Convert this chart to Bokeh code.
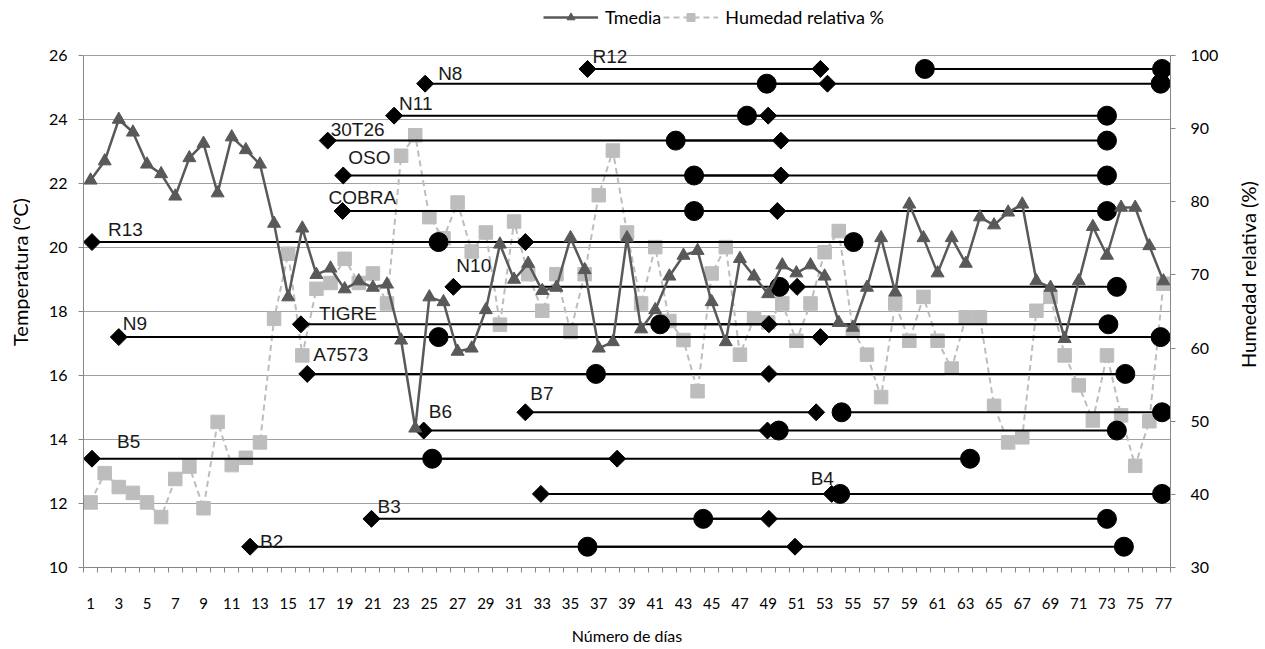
import math
from bokeh.plotting import figure
from bokeh.layouts import row
from bokeh.models import (Range1d, LinearAxis, FixedTicker, Legend, LegendItem,
                          ColumnDataSource)
from bokeh.embed import file_html
from bokeh.resources import INLINE
from bokeh.core.properties import value

# ---------------- data ----------------
days = list(range(1, 78))

tmedia = [22.1, 22.7, 24.0, 23.6, 22.6, 22.3, 21.6, 22.8, 23.25, 21.7,
          23.45, 23.05, 22.6, 20.75, 18.45, 20.6, 19.15, 19.35, 18.7, 18.95,
          18.75, 18.85, 17.1, 14.35, 18.45, 18.3, 16.75, 16.85, 18.05, 20.1,
          19.0, 19.5, 18.65, 18.75, 20.3, 19.3, 16.85, 17.05, 20.3, 17.45,
          18.05, 19.1, 19.75, 19.9, 18.3, 17.05, 19.65, 19.1, 18.55, 19.45,
          19.2, 19.45, 19.1, 17.65, 17.5, 18.75, 20.3, 18.6, 21.35, 20.3,
          19.2, 20.3, 19.5, 20.95, 20.7, 21.1, 21.35, 18.95, 18.75, 17.15,
          18.95, 20.65, 19.75, 21.25, 21.25, 20.05, 18.95]

humedad = [38.9, 42.9, 41.0, 40.2, 38.9, 36.9, 42.1, 43.8, 38.1, 49.9,
           44.0, 45.0, 47.1, 64.0, 72.9, 59.0, 68.1, 68.9, 72.2, 68.9,
           70.2, 66.1, 86.3, 89.1, 77.9, 75.0, 79.9, 73.2, 75.8, 63.2,
           77.3, 70.1, 65.1, 70.1, 62.2, 70.1, 80.9, 87.0, 75.8, 66.1,
           73.8, 63.7, 61.1, 54.1, 70.2, 73.8, 59.1, 64.1, 63.5, 66.1,
           61.0, 66.1, 73.1, 76.0, 62.4, 59.1, 53.3, 66.1, 61.0, 67.0,
           61.0, 57.2, 64.2, 64.2, 52.1, 47.1, 47.8, 65.1, 67.0, 59.0,
           54.9, 50.1, 59.0, 50.8, 43.9, 50.0, 68.8]

variedades = ["R12", "N8", "N11", "30T26", "OSO", "COBRA", "R13", "N10", "TIGRE",
              "N9", "A7573", "B7", "B6", "B5", "B4", "B3", "B2"]
nivel = [25.58, 25.12, 24.12, 23.34, 22.25, 21.14, 20.17, 18.77, 17.6,
         17.2, 16.05, 14.85, 14.28, 13.4, 12.3, 11.52, 10.65]
rombo_ini = [36.2, 24.7, 22.5, 17.8, 18.9, 18.85, 1.1, 26.7, 15.9,
             3.0, 16.35, 31.8, 24.6, 1.1, 32.9, 20.9, 12.3]
rombo_fin = [52.7, 53.2, 49.0, 49.9, 49.9, 49.65, 31.8, 51.05, 49.05,
             52.7, 49.05, 52.4, 48.95, 38.3, 53.5, 49.05, 50.9]
circ_ini = [60.1, 48.9, 47.5, 42.45, 43.75, 43.75, 25.65, 49.8, 41.35,
            25.65, 36.8, 54.2, 49.75, 25.2, 54.1, 44.4, 36.2]
circ_fin = [76.9, 76.8, 73.0, 73.0, 73.0, 73.0, 55.05, 73.7, 73.1,
            76.8, 74.3, 76.9, 73.7, 63.3, 76.9, 73.0, 74.2]

x_ticks = list(range(1, 78, 2))
y_ticks = list(range(10, 27, 2))
hum_ticks = list(range(30, 101, 10))
t_lim = (10, 26)
h_lim = (30, 100)

titulo_x = "Número de días"
titulo_t = "Temperatura (°C)"
titulo_h = "Humedad relativa (%)"

# label placement (screen px, relative to the anchor diamond)
label_anchor_end = [False] * 14 + [True] + [False] * 2
label_dx = [5, 13, 5, 3, 5, -14, 16, 3, 18, 4, 6, 5, 5, 25, -21, 6, 10]
label_dy = [-12, -10, -12, -11, -18, -14, -13, -21, -11, -14, -19, -19, -19, -17, -15, -12, -5]

# ---------------- layout constants ----------------
H = 645
LW = 30              # left title strip
RW = 28              # right title strip
MW = 1206            # main figure width
FL = 83 - LW         # frame left inside main figure
FW = 1087
FH = 567             # frame from the very top down to the x axis
PX_PER_T = 32.0
t_top = t_lim[0] + FH / PX_PER_T
h_top = h_lim[0] + (t_top - t_lim[0]) * (h_lim[1] - h_lim[0]) / (t_lim[1] - t_lim[0])

AXC = "#868686"
TICKFONT = "Lato"
TITLEFONT = "Lato"

p = figure(width=MW, height=H, output_backend="svg", toolbar_location=None,
           x_range=Range1d(0.5, 77.5), y_range=Range1d(t_lim[0], t_top),
           min_border_left=FL, min_border_top=0,
           min_border_right=MW - FL - FW, min_border_bottom=H - FH,
           frame_width=FW, frame_height=FH,
           background_fill_color="white", border_fill_color="white")
p.outline_line_color = None
p.extra_y_ranges = {"hum": Range1d(h_lim[0], h_top)}

# x axis
xa = p.xaxis[0]
xa.ticker = FixedTicker(ticks=x_ticks, minor_ticks=[i + 0.5 for i in range(0, 78)])
xa.axis_line_color = AXC
xa.major_tick_out = 0
xa.major_tick_in = 0
xa.minor_tick_out = 5
xa.minor_tick_in = 0
xa.minor_tick_line_color = AXC
xa.major_label_standoff = 25
xa.major_label_text_font = TICKFONT
xa.major_label_text_font_size = "15px"
xa.major_label_text_color = "#000000"
xa.axis_label = titulo_x
xa.axis_label_standoff = 14
xa.axis_label_text_font = TITLEFONT
xa.axis_label_text_font_size = "16px"
xa.axis_label_text_font_style = "normal"
xa.axis_label_text_color = "#000000"

# left axis
ya = p.yaxis[0]
ya.ticker = FixedTicker(ticks=y_ticks)
ya.bounds = t_lim
ya.axis_line_color = AXC
ya.major_tick_out = 5
ya.major_tick_in = 0
ya.major_tick_line_color = AXC
ya.minor_tick_line_color = None
ya.major_label_standoff = 11
ya.major_label_text_font = TICKFONT
ya.major_label_text_font_size = "16px"
ya.major_label_text_color = "#000000"

# right axis
ra = LinearAxis(y_range_name="hum", ticker=FixedTicker(ticks=hum_ticks))
ra.bounds = h_lim
ra.axis_line_color = AXC
ra.major_tick_out = 5
ra.major_tick_in = 0
ra.major_tick_line_color = AXC
ra.minor_tick_line_color = None
ra.major_label_standoff = 15
ra.major_label_text_font = TICKFONT
ra.major_label_text_font_size = "16px"
ra.major_label_text_color = "#000000"
p.add_layout(ra, "right")

p.xgrid.grid_line_color = None
p.ygrid.ticker = FixedTicker(ticks=y_ticks)
p.ygrid.grid_line_color = "#a0a0a0"
p.ygrid.grid_line_width = 1

# ---------------- series ----------------
src = ColumnDataSource(dict(x=days, t=tmedia, h=humedad))

hl = p.line("x", "h", source=src, y_range_name="hum", line_color="#bdbdbd",
            line_width=2, line_dash="6 4")
hm = p.scatter("x", "h", source=src, y_range_name="hum", marker="square",
               size=13.5, fill_color="#bdbdbd", line_color="#bdbdbd")

for i in range(len(variedades)):
    y = nivel[i]
    p.line([rombo_ini[i], rombo_fin[i]], [y, y], line_color="black", line_width=2)
    p.line([circ_ini[i], circ_fin[i]], [y, y], line_color="black", line_width=2)

ph_d = ColumnDataSource(dict(x=rombo_ini + rombo_fin, y=nivel + nivel))
ph_c = ColumnDataSource(dict(x=circ_ini + circ_fin, y=nivel + nivel))
p.scatter("x", "y", source=ph_c, marker="circle", size=19,
          fill_color="black", line_color="black")
p.scatter("x", "y", source=ph_d, marker="square", size=12, angle=math.pi / 4,
          fill_color="black", line_color="black")

tl = p.line("x", "t", source=src, line_color="#595959", line_width=2.5)
tm = p.scatter("x", "t", source=src, marker="triangle", size=13,
               fill_color="#595959", line_color="#595959")

lab_x = [rombo_fin[i] if label_anchor_end[i] else rombo_ini[i] for i in range(len(variedades))]
lab_src = ColumnDataSource(dict(x=lab_x, y=nivel, t=variedades, dx=label_dx, dy=label_dy))
p.text("x", "y", text="t", source=lab_src, x_offset="dx", y_offset="dy",
       text_font=value("Liberation Sans"), text_font_size="19px",
       text_color="#1a1a1a", text_align="left", text_baseline="middle")

# ---------------- legend ----------------
legend = Legend(items=[LegendItem(label="Tmedia", renderers=[tl, tm]),
                       LegendItem(label="Humedad relativa %", renderers=[hl, hm])],
                orientation="horizontal", location=(460, FH - 28),
                glyph_width=55, glyph_height=20, label_standoff=7, spacing=2,
                padding=0, margin=0, border_line_color=None,
                background_fill_alpha=0,
                label_text_font=TICKFONT, label_text_font_size="18px",
                label_text_color="#000000", label_height=20)
p.add_layout(legend, "center")


# ---------------- vertical axis titles (reading bottom-to-top) ----------------
def title_strip(width, text, cx, cy_page):
    f = figure(width=width, height=H, output_backend="svg", toolbar_location=None,
               x_range=Range1d(0, width), y_range=Range1d(0, H),
               x_axis_location=None, y_axis_location=None,
               min_border=0, min_border_left=0, min_border_right=0,
               min_border_top=0, min_border_bottom=0,
               background_fill_color="white", border_fill_color="white")
    f.outline_line_color = None
    f.grid.visible = False
    f.text(x=[cx], y=[H - cy_page], text=[text], angle=math.pi / 2,
           text_font=value(TITLEFONT), text_font_size="20px", text_color="#000000",
           text_align="center", text_baseline="middle")
    return f


left_strip = title_strip(LW, titulo_t, 19, 310)
right_strip = title_strip(RW, titulo_h, 1247 - (LW + MW), 313)

layout = row(left_strip, p, right_strip)
open("out.html", "w").write(file_html(layout, INLINE))
